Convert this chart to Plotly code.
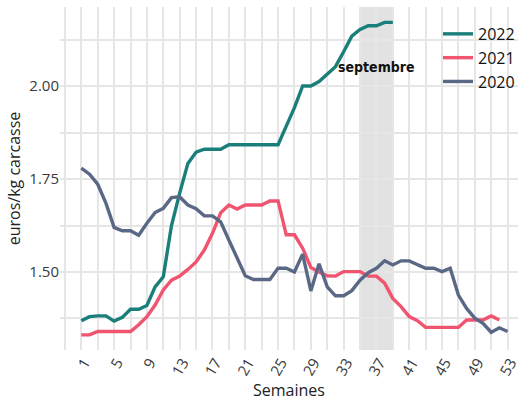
import plotly.graph_objects as go

weeks_2022 = list(range(1, 40))
prix_2022 = [1.369, 1.380, 1.382, 1.382, 1.368, 1.378, 1.400, 1.400, 1.410, 1.460,
             1.487, 1.625, 1.712, 1.792, 1.822, 1.830, 1.830, 1.830, 1.842, 1.842,
             1.842, 1.842, 1.842, 1.842, 1.842, 1.892, 1.942, 2.000, 2.000, 2.012,
             2.032, 2.052, 2.092, 2.134, 2.152, 2.162, 2.162, 2.171, 2.171]

weeks_2021 = list(range(1, 53))
prix_2021 = [1.331, 1.331, 1.340, 1.340, 1.340, 1.340, 1.340, 1.358, 1.380, 1.411,
             1.452, 1.478, 1.489, 1.507, 1.527, 1.559, 1.604, 1.659, 1.680, 1.669,
             1.680, 1.680, 1.680, 1.691, 1.691, 1.600, 1.600, 1.564, 1.512, 1.500,
             1.490, 1.489, 1.501, 1.501, 1.501, 1.489, 1.489, 1.470, 1.429, 1.407,
             1.380, 1.369, 1.351, 1.351, 1.351, 1.351, 1.351, 1.371, 1.371, 1.371,
             1.382, 1.371]

weeks_2020 = list(range(1, 54))
prix_2020 = [1.779, 1.763, 1.736, 1.685, 1.620, 1.611, 1.611, 1.599, 1.631, 1.660,
             1.671, 1.700, 1.702, 1.680, 1.670, 1.651, 1.651, 1.635, 1.586, 1.537,
             1.490, 1.480, 1.480, 1.480, 1.510, 1.510, 1.500, 1.548, 1.449, 1.522,
             1.460, 1.436, 1.436, 1.450, 1.478, 1.498, 1.510, 1.530, 1.519, 1.530,
             1.530, 1.521, 1.510, 1.510, 1.501, 1.510, 1.438, 1.402, 1.376, 1.362,
             1.338, 1.350, 1.340]

x_ticks = list(range(1, 54, 4))
y_ticks = [1.50, 1.75, 2.00]
y_labels = ["1.50", "1.75", "2.00"]
sept_start, sept_end = 35, 39
annot_text = "septembre"

colors = {"2022": "#1A7F7A", "2021": "#F0546F", "2020": "#5A6886"}
grid = "#E6E6E6"

fig = go.Figure()
for name, xs, ys in [("2022", weeks_2022, prix_2022),
                     ("2021", weeks_2021, prix_2021),
                     ("2020", weeks_2020, prix_2020)]:
    fig.add_trace(go.Scatter(x=xs, y=ys, mode="lines", name=name,
                             line=dict(color=colors[name], width=3.4)))

fig.add_shape(type="rect", xref="x", yref="paper", x0=sept_start, x1=sept_end,
              y0=0, y1=1, fillcolor="#E1E2E1", line_width=0, layer="below")

fig.add_annotation(x=(sept_start + sept_end) / 2, y=2.05, text="<b>" + annot_text + "</b>",
                   showarrow=False,
                   font=dict(family="Liberation Sans Narrow, DejaVu Sans Condensed, Roboto",
                             size=14, color="#111111"))

fig.update_layout(
    width=520, height=401,
    margin=dict(l=60, r=0, t=7, b=51),
    paper_bgcolor="white", plot_bgcolor="white",
    font=dict(family="Open Sans", size=15, color="#333333"),
    showlegend=True,
    legend=dict(x=0.826, y=0.971, xanchor="left", yanchor="top",
                bgcolor="rgba(0,0,0,0)", font=dict(size=16, color="#111111"),
                tracegroupgap=0, itemwidth=30),
    xaxis=dict(range=[-1.6, 54.27], tickvals=x_ticks, ticktext=[str(t) for t in x_ticks],
               tickangle=-60, showgrid=True, gridcolor=grid, gridwidth=2,
               zeroline=False, showline=False, ticks="", automargin=False,
               ticklabelshift=3, ticklabeloverflow="allow",
               minor=dict(tickvals=list(range(-1, 56, 4)), showgrid=True,
                          gridcolor=grid, gridwidth=2),
               title=dict(text="Semaines", font=dict(size=16, color="#222222"), standoff=1),
               tickfont=dict(size=15, color="#3a3a3a")),
    yaxis=dict(range=[1.2903, 2.2124], tickvals=y_ticks, ticktext=y_labels,
               showgrid=True, gridcolor=grid, gridwidth=2, zeroline=False,
               showline=False, ticks="", automargin=False,
               minor=dict(tickvals=[1.375, 1.625, 1.875, 2.125], showgrid=True,
                          gridcolor=grid, gridwidth=2),
               title=dict(text="euros/kg carcasse", font=dict(size=16, color="#222222"),
                          standoff=4),
               tickfont=dict(size=15, color="#3a3a3a")),
)

fig.write_html("out.html", config={"displayModeBar": False},
               post_script="document.body.style.margin='0';document.body.style.overflow='hidden';")
